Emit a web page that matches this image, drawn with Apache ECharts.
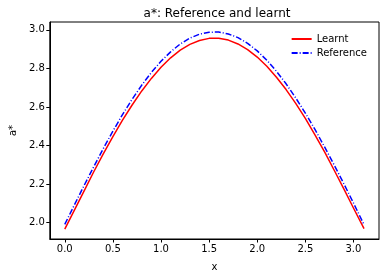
<!DOCTYPE html>
<html><head><meta charset="utf-8">
<script src="https://cdn.jsdelivr.net/npm/echarts@6/dist/echarts.min.js"></script>
<style>html,body{margin:0;padding:0;background:#fff}#c{width:386px;height:278px}</style>
</head><body><div id="c"></div>
<script>
const xValues = [0,0.1,0.2,0.3,0.4,0.5,0.6,0.7,0.8,0.9,1.0,1.1,1.2,1.3,1.4,1.5,1.6,1.7,1.8,1.9,2.0,2.1,2.2,2.3,2.4,2.5,2.6,2.7,2.8,2.9,3.0,3.11];
const reference = [1.990,2.091,2.191,2.288,2.383,2.474,2.560,2.640,2.713,2.779,2.837,2.886,2.927,2.957,2.978,2.988,2.989,2.979,2.960,2.930,2.891,2.842,2.785,2.720,2.647,2.568,2.483,2.392,2.298,2.201,2.101,1.988];
const learnt = [1.965,2.064,2.163,2.262,2.356,2.446,2.531,2.610,2.683,2.748,2.806,2.855,2.895,2.925,2.945,2.956,2.957,2.947,2.927,2.898,2.859,2.811,2.754,2.690,2.618,2.540,2.455,2.366,2.271,2.174,2.075,1.968];
const xTicks = [0,0.5,1.0,1.5,2.0,2.5,3.0];
const yTicks = [2.0,2.2,2.4,2.6,2.8,3.0];

const chart = echarts.init(document.getElementById('c'), null, {renderer:'canvas'});
const font = 'DejaVu Sans';
chart.setOption({
  animation:false,
  title:{text:'a*: Reference and learnt',left:212,top:3,textAlign:'center',
    textStyle:{fontFamily:font,fontSize:12,fontWeight:'normal',color:'#000'}},
  grid:{left:44,right:7,top:22,bottom:39,show:true,borderColor:'#000',borderWidth:1,backgroundColor:'transparent'},
  legend:{right:14,top:29,orient:'vertical',itemWidth:20,itemHeight:10,itemGap:4,
    itemStyle:{opacity:0},
    textStyle:{fontFamily:font,fontSize:10,color:'#000'},
    data:['Learnt','Reference']},
  xAxis:{type:'value',min:-0.1555,max:3.2655,name:'x',nameLocation:'middle',nameGap:23,
    nameTextStyle:{fontFamily:font,fontSize:10,color:'#000'},
    axisLine:{show:true,onZero:false,lineStyle:{color:'#000',width:1}},
    axisTick:{show:true,inside:false,length:3.5,lineStyle:{color:'#000'},customValues:xTicks},
    axisLabel:{fontFamily:font,fontSize:10,color:'#000',margin:5,customValues:xTicks,formatter:v=>v.toFixed(1)},
    splitLine:{show:false}},
  yAxis:{type:'value',min:1.914,max:3.041,name:'a*',nameLocation:'middle',nameGap:30,
    nameTextStyle:{fontFamily:font,fontSize:10,color:'#000'},
    axisLine:{show:true,onZero:false,lineStyle:{color:'#000',width:1}},
    axisTick:{show:true,inside:false,length:3.5,lineStyle:{color:'#000'},customValues:yTicks},
    axisLabel:{fontFamily:font,fontSize:10,color:'#000',margin:5,customValues:yTicks,formatter:v=>v.toFixed(1)},
    splitLine:{show:false}},
  series:[
    {name:'Learnt',type:'line',showSymbol:false,symbol:'none',smooth:false,
      data:xValues.map((x,i)=>[x,learnt[i]]),
      lineStyle:{color:'#ff0000',width:1.5},itemStyle:{color:'#ff0000'}},
    {name:'Reference',type:'line',showSymbol:false,symbol:'none',smooth:false,
      data:xValues.map((x,i)=>[x,reference[i]]),
      lineStyle:{color:'#0000ff',width:1.5,type:[6,2,1,2]},itemStyle:{color:'#0000ff'}}
  ]
});
</script></body></html>
